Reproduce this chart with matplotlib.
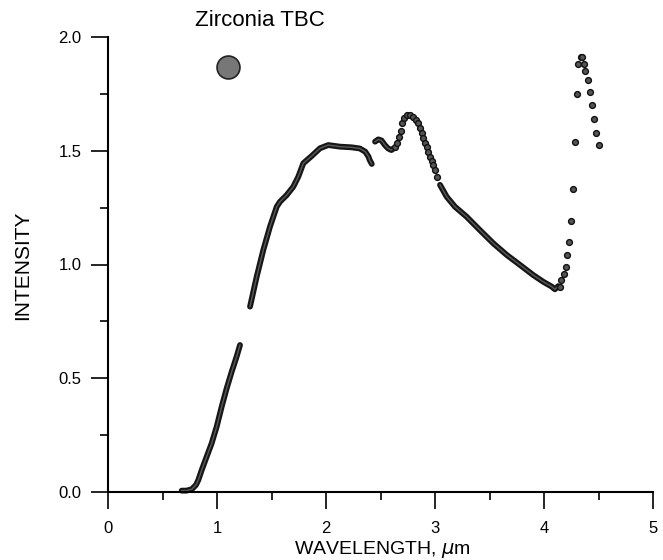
import matplotlib
matplotlib.use('Agg')
from matplotlib import pyplot as plt
import numpy as np

plt.rcParams['font.family'] = ['Liberation Sans', 'DejaVu Sans']
plt.rcParams['mathtext.fontset'] = 'dejavusans'

# values (wavelength in um, intensity)
seg1_x = [0.676, 0.72, 0.768, 0.807, 0.829, 0.86, 0.905, 0.951, 0.997, 1.043, 1.089, 1.135, 1.18, 1.211]
seg1_y = [0.006, 0.006, 0.012, 0.031, 0.053, 0.097, 0.155, 0.214, 0.287, 0.375, 0.456, 0.529, 0.595, 0.646]

seg2_x = [1.303, 1.364, 1.425, 1.486, 1.548, 1.578, 1.639, 1.70, 1.746, 1.792, 1.869, 1.945,
          2.021, 2.128, 2.235, 2.31, 2.36, 2.39, 2.40, 2.42]
seg2_y = [0.815, 0.946, 1.064, 1.166, 1.254, 1.276, 1.305, 1.342, 1.386, 1.445, 1.477, 1.511,
          1.525, 1.518, 1.515, 1.51, 1.496, 1.474, 1.46, 1.442]

seg3_x = [2.45, 2.48, 2.51, 2.54, 2.57, 2.60, 2.62]
seg3_y = [1.54, 1.55, 1.545, 1.525, 1.51, 1.503, 1.51]

dots1_x = [2.633, 2.654, 2.673, 2.685, 2.694, 2.716, 2.740, 2.771, 2.801, 2.826, 2.847, 2.862,
           2.877, 2.893, 2.908, 2.924, 2.939, 2.954, 2.970, 2.984, 3.0, 3.021]
dots1_y = [1.518, 1.536, 1.559, 1.588, 1.620, 1.642, 1.657, 1.657, 1.647, 1.635, 1.620, 1.599,
           1.577, 1.555, 1.536, 1.515, 1.496, 1.474, 1.455, 1.437, 1.415, 1.385]

seg4_x = [3.046, 3.107, 3.183, 3.29, 3.41, 3.535, 3.658, 3.78, 3.90, 3.99, 4.07, 4.10, 4.13]
seg4_y = [1.35, 1.298, 1.254, 1.21, 1.152, 1.093, 1.042, 0.998, 0.954, 0.925, 0.903, 0.891, 0.905]

dots2_x = [4.15, 4.16, 4.18, 4.20, 4.21, 4.23, 4.25, 4.27, 4.28, 4.30, 4.31, 4.34, 4.35,
           4.37, 4.38, 4.40, 4.42, 4.44, 4.46, 4.48, 4.50]
dots2_y = [0.90, 0.93, 0.96, 0.99, 1.04, 1.10, 1.19, 1.33, 1.54, 1.75, 1.88, 1.91, 1.91,
           1.88, 1.85, 1.81, 1.76, 1.70, 1.64, 1.58, 1.525]

legend_x = [1.098]
legend_y = [1.87]

fig = plt.figure(figsize=(6.63, 5.6), dpi=100)
ax = fig.add_axes([108 / 663, 68 / 560, 545 / 663, 455 / 560])

mk = dict(marker='o', ms=4.2, mfc='#555555', mec='#111111', mew=1.0, clip_on=False)
# dense runs of markers look like one thick textured band
for xs, ys in [(seg1_x, seg1_y), (seg2_x, seg2_y), (seg3_x, seg3_y), (seg4_x, seg4_y)]:
    ax.plot(xs, ys, '-', color='#161616', lw=4.2, solid_capstyle='round',
            solid_joinstyle='round', clip_on=False)
    ax.plot(xs, ys, '-', color='#5a5a5a', lw=1.0, clip_on=False)
ax.plot(dots1_x, dots1_y, ls='none', **mk)
ax.plot(dots2_x, dots2_y, ls='none', **mk)

ax.plot(legend_x, legend_y, 'o', ms=16.5, mfc='#777777', mec='#222222', mew=1.2)

ax.set_xlim(0, 5)
ax.set_ylim(0, 2)
ax.set_xticks(np.arange(0, 6, 1))
ax.set_xticks(np.arange(0.5, 5, 1), minor=True)
ax.set_yticks(np.arange(0, 2.01, 0.5))
ax.set_yticks(np.arange(0.25, 2, 0.5), minor=True)
ax.spines['top'].set_visible(False)
ax.spines['right'].set_visible(False)
for s in ['left', 'bottom']:
    ax.spines[s].set_linewidth(1.5)
ax.tick_params(which='major', direction='out', length=12, width=1.2, labelsize=12, color='black')
ax.tick_params(which='minor', direction='out', length=5.5, width=1.2)
ax.tick_params(axis='y', pad=7)
ax.tick_params(axis='x', pad=9)

fig.text(260 / 663, 1 - 20 / 560, 'Zirconia TBC', ha='center', va='center', fontsize=16)
fig.text(23 / 663, 1 - 265 / 560, 'INTENSITY', ha='center', va='center', rotation=90, fontsize=15)
fig.text(382 / 663, 1 - 550 / 560, r'WAVELENGTH, $\mu$m', ha='center', va='center', fontsize=14)

fig.savefig('out.png', dpi=100)
